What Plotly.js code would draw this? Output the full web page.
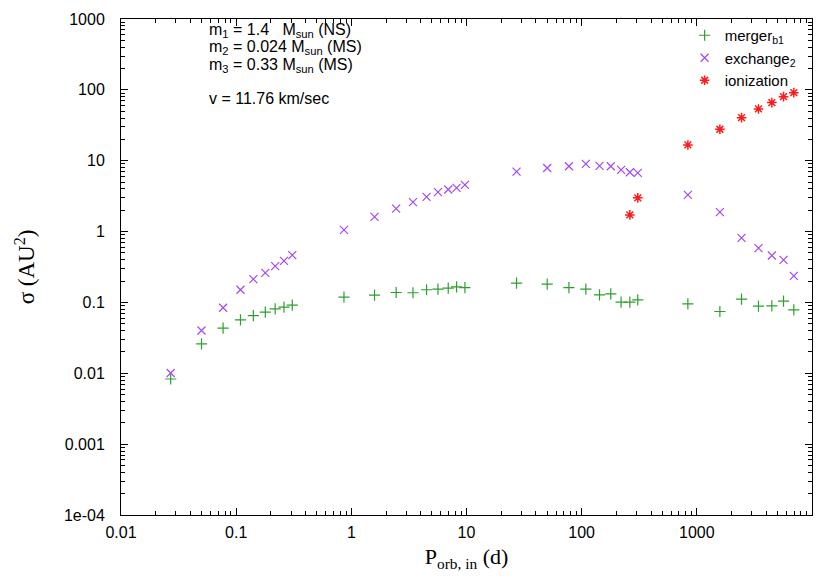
<!DOCTYPE html>
<html>
<head>
<meta charset="utf-8">
<script src="https://cdn.plot.ly/plotly-3.0.1.min.js"></script>
<style>html,body{margin:0;padding:0;background:#fff}#chart{width:830px;height:581px}</style>
</head>
<body>
<div id="chart"></div>
<script>
// Orbital period P_orb,in (days)
const periods = [0.027, 0.050, 0.077, 0.109, 0.141, 0.179, 0.218, 0.260, 0.307,
  0.863, 1.59, 2.45, 3.43, 4.50, 5.65, 6.94, 8.2, 9.69,
  27.2, 50.2, 77.5, 108.7, 142.9, 179, 220, 262, 307,
  836, 1585, 2443, 3430, 4480, 5660, 6950];
const mergerSigma = [0.0083, 0.026, 0.0434, 0.0569, 0.0653, 0.0729, 0.0813, 0.086, 0.0917,
  0.119, 0.127, 0.138, 0.137, 0.151, 0.154, 0.159, 0.166, 0.162,
  0.187, 0.181, 0.162, 0.154, 0.128, 0.132, 0.101, 0.101, 0.109,
  0.0955, 0.0745, 0.111, 0.0887, 0.0895, 0.104, 0.0787];
const exchangeSigma = [0.0101, 0.0402, 0.084, 0.151, 0.213, 0.261, 0.325, 0.386, 0.465,
  1.057, 1.61, 2.11, 2.60, 3.08, 3.60, 3.92, 4.13, 4.56,
  7.0, 7.9, 8.36, 9.02, 8.44, 8.36, 7.41, 6.88, 6.73,
  3.30, 1.88, 0.815, 0.583, 0.459, 0.399, 0.237];
const ionizationPeriods = [262, 307, 836, 1585, 2443, 3430, 4480, 5660, 6950];
const ionizationSigma = [1.72, 2.99, 16.7, 27.8, 40.5, 53.8, 66.1, 80.2, 91.3];

const xTickVals = [0.01, 0.1, 1, 10, 100, 1000, 10000];
const xTickText = ['0.01', '0.1', '1', '10', '100', '1000', '10000'];
const yTickVals = [1e-4, 1e-3, 0.01, 0.1, 1, 10, 100, 1000];
const yTickText = ['1e-04', '0.001', '0.01', '0.1', '1', '10', '100', '1000'];

const sans = 'Liberation Sans, Arial, Helvetica, sans-serif';
const serif = 'Liberation Serif, Times New Roman, serif';

const traces = [
  {x: periods, y: mergerSigma, type: 'scatter', mode: 'markers', name: 'merger<sub>b1</sub>',
   marker: {symbol: 'cross-thin-open', size: 8, color: '#2ca02c', line: {width: 1.2, color: '#2ca02c'}}},
  {x: periods, y: exchangeSigma, type: 'scatter', mode: 'markers', name: 'exchange<sub>2</sub>',
   marker: {symbol: 'x-thin-open', size: 8, color: '#a349f0', line: {width: 1.2, color: '#a349f0'}}},
  {x: ionizationPeriods, y: ionizationSigma, type: 'scatter', mode: 'markers', name: 'ionization',
   marker: {symbol: 'asterisk-open', size: 8, color: '#ff1a1a', line: {width: 1.5, color: '#ff1a1a'}}}
];

const axisCommon = {
  type: 'log', showgrid: false, zeroline: false, showline: true, linecolor: '#000', linewidth: 1,
  mirror: 'allticks', ticks: 'inside', ticklen: 7, tickcolor: '#000', tickwidth: 1,
  tickfont: {family: sans, size: 16, color: '#000'},
  minor: {ticks: 'inside', ticklen: 4, tickcolor: '#000', dtick: 'D1', showgrid: false}
};

const annFont = {family: sans, size: 16, color: '#000'};

const layout = {
  width: 830, height: 581,
  margin: {l: 121, r: 18, t: 19, b: 66, autoexpand: false},
  paper_bgcolor: '#fff', plot_bgcolor: '#fff',
  showlegend: true,
  legend: {x: 0.985, xanchor: 'right', y: 1.0, yanchor: 'top', bgcolor: 'rgba(0,0,0,0)',
    font: {family: sans, size: 15, color: '#000'}, tracegroupgap: 0, itemwidth: 30},
  xaxis: Object.assign({}, axisCommon, {
    range: [-2, 4], tickmode: 'array', tickvals: xTickVals, ticktext: xTickText,
    ticklabelstandoff: 3,
    title: {text: 'P<sub>orb, in</sub> (d)', font: {family: serif, size: 22, color: '#000'}, standoff: 8}
  }),
  yaxis: Object.assign({}, axisCommon, {
    range: [-4, 3], tickmode: 'array', tickvals: yTickVals, ticktext: yTickText,
    ticklabelstandoff: 12,
    title: {text: 'σ (AU<sup>2</sup>)', font: {family: serif, size: 23, color: '#000'}, standoff: 22}
  }),
  annotations: [
    {xref: 'paper', yref: 'paper', x: 0.125, y: 0.976, xanchor: 'left', yanchor: 'middle', showarrow: false,
     text: 'm<sub>1</sub> = 1.4   M<sub>sun</sub> (NS)', font: annFont},
    {xref: 'paper', yref: 'paper', x: 0.125, y: 0.942, xanchor: 'left', yanchor: 'middle', showarrow: false,
     text: 'm<sub>2</sub> = 0.024 M<sub>sun</sub> (MS)', font: annFont},
    {xref: 'paper', yref: 'paper', x: 0.125, y: 0.907, xanchor: 'left', yanchor: 'middle', showarrow: false,
     text: 'm<sub>3</sub> = 0.33 M<sub>sun</sub> (MS)', font: annFont},
    {xref: 'paper', yref: 'paper', x: 0.125, y: 0.839, xanchor: 'left', yanchor: 'middle', showarrow: false,
     text: 'v = 11.76 km/sec', font: annFont}
  ]
};

Plotly.newPlot('chart', traces, layout, {displayModeBar: false, staticPlot: true});
</script>
</body>
</html>
